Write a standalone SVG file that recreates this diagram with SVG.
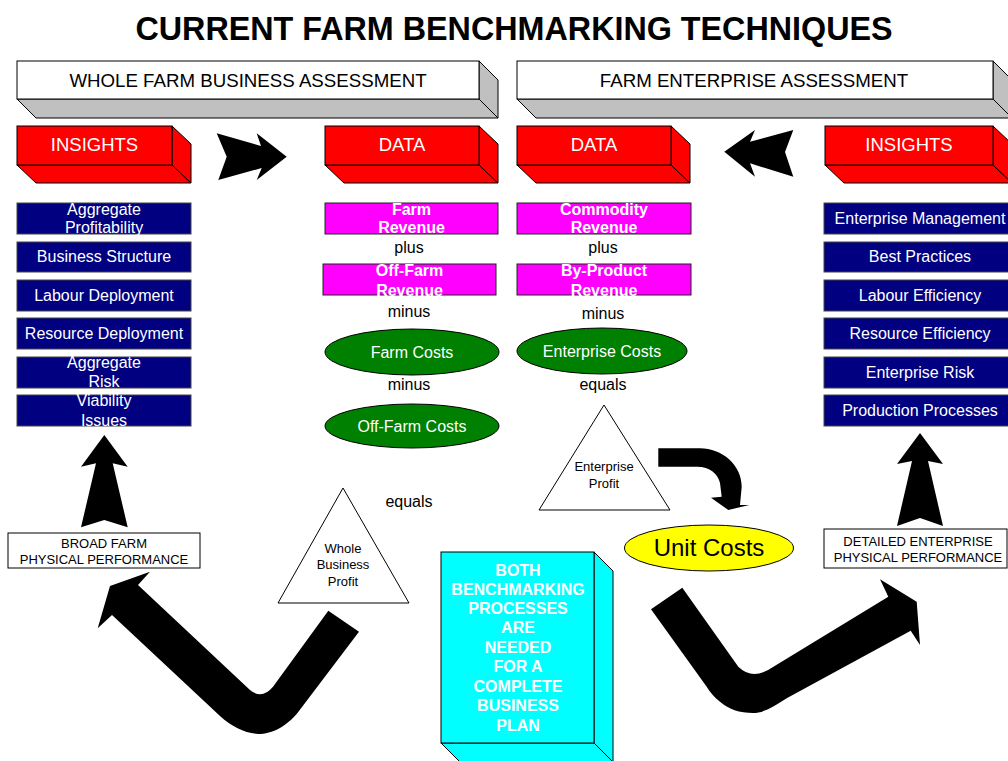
<svg xmlns="http://www.w3.org/2000/svg" width="1008" height="761" viewBox="0 0 1008 761">
<style>
text{font-family:"Liberation Sans",Arial,Helvetica,sans-serif;text-anchor:middle}
.title{font-size:32.3px;font-weight:bold;fill:#000}
.hdr{font-size:18.7px;fill:#000}
.red{font-size:18.5px;fill:#fff}
.nav{font-size:16px;fill:#fff}
.mag{font-size:16px;font-weight:bold;fill:#fff}
.op{font-size:16px;fill:#000}
.sm{font-size:13px;fill:#000}
.cy{font-size:16px;font-weight:bold;fill:#fff}
.edge{stroke:#000;stroke-width:1}
.navbox{fill:#000080;stroke:#444;stroke-width:1}
.magbox{fill:#FF00FF;stroke:#222;stroke-width:1}
.ell{fill:#008000;stroke:#000;stroke-width:1}
.tri{fill:#fff;stroke:#000;stroke-width:1}
.arrow{fill:#000;stroke:none}
</style>

<text class="title" x="514" y="39.5">CURRENT FARM BENCHMARKING TECHNIQUES</text>

<g id="hdr-whole">
<polygon class="edge" fill="#C0C0C0" points="17,99 479,99 498,118 36,118"/>
<polygon class="edge" fill="#C0C0C0" points="479,61 498,80 498,118 479,99"/>
<rect class="edge" fill="#fff" x="17" y="61" width="462" height="38"/>
<text class="hdr" x="248" y="87">WHOLE FARM BUSINESS ASSESSMENT</text>
</g>
<g id="hdr-enterprise">
<polygon class="edge" fill="#C0C0C0" points="517,99 993,99 1012,118 536,118"/>
<polygon class="edge" fill="#C0C0C0" points="993,61 1012,80 1012,118 993,99"/>
<rect class="edge" fill="#fff" x="517" y="61" width="476" height="38"/>
<text class="hdr" x="754" y="87">FARM ENTERPRISE ASSESSMENT</text>
</g>

<g id="insights-left">
<polygon class="edge" fill="#FF0000" points="17,165 172,165 191,183 36,183"/>
<polygon class="edge" fill="#FF0000" points="172,126 191,144 191,183 172,165"/>
<rect class="edge" fill="#FF0000" x="17" y="126" width="155" height="39"/>
<text class="red" x="94.5" y="151">INSIGHTS</text>
</g>
<g id="data-left">
<polygon class="edge" fill="#FF0000" points="325,165 479,165 498,183 344,183"/>
<polygon class="edge" fill="#FF0000" points="479,126 498,144 498,183 479,165"/>
<rect class="edge" fill="#FF0000" x="325" y="126" width="154" height="39"/>
<text class="red" x="402" y="151">DATA</text>
</g>
<g id="data-right">
<polygon class="edge" fill="#FF0000" points="517,165 671,165 690,183 536,183"/>
<polygon class="edge" fill="#FF0000" points="671,126 690,144 690,183 671,165"/>
<rect class="edge" fill="#FF0000" x="517" y="126" width="154" height="39"/>
<text class="red" x="594" y="151">DATA</text>
</g>
<g id="insights-right">
<polygon class="edge" fill="#FF0000" points="825,165 993,165 1012,183 844,183"/>
<polygon class="edge" fill="#FF0000" points="993,126 1012,144 1012,183 993,165"/>
<rect class="edge" fill="#FF0000" x="825" y="126" width="168" height="39"/>
<text class="red" x="909" y="151">INSIGHTS</text>
</g>

<g id="left-insights-list">
<rect class="navbox" x="17" y="203" width="174" height="31"/>
<text class="nav" x="104" y="214.5">Aggregate</text>
<text class="nav" x="104" y="233">Profitability</text>
<rect class="navbox" x="17" y="242" width="174" height="30"/>
<text class="nav" x="104" y="262">Business Structure</text>
<rect class="navbox" x="17" y="280" width="174" height="31"/>
<text class="nav" x="104" y="301">Labour Deployment</text>
<rect class="navbox" x="17" y="318" width="174" height="31"/>
<text class="nav" x="104" y="339">Resource Deployment</text>
<rect class="navbox" x="17" y="357" width="174" height="31"/>
<text class="nav" x="104" y="367.5">Aggregate</text>
<text class="nav" x="104" y="386.5">Risk</text>
<rect class="navbox" x="17" y="395" width="174" height="31"/>
<text class="nav" x="104" y="406">Viability</text>
<text class="nav" x="104" y="425.5">Issues</text>
</g>

<g id="right-insights-list">
<rect class="navbox" x="824" y="203" width="192" height="31"/>
<text class="nav" x="920" y="224">Enterprise Management</text>
<rect class="navbox" x="824" y="242" width="192" height="30"/>
<text class="nav" x="920" y="262">Best Practices</text>
<rect class="navbox" x="824" y="280" width="192" height="31"/>
<text class="nav" x="920" y="301">Labour Efficiency</text>
<rect class="navbox" x="824" y="318" width="192" height="31"/>
<text class="nav" x="920" y="339">Resource Efficiency</text>
<rect class="navbox" x="824" y="357" width="192" height="31"/>
<text class="nav" x="920" y="377.5">Enterprise Risk</text>
<rect class="navbox" x="824" y="395" width="192" height="31"/>
<text class="nav" x="920" y="416">Production Processes</text>
</g>

<g id="farm-revenue">
<rect class="magbox" x="325" y="203" width="173" height="31"/>
<text class="mag" x="411.5" y="214.5">Farm</text>
<text class="mag" x="411.5" y="233">Revenue</text>
</g>
<text class="op" x="409" y="252.5">plus</text>
<g id="offfarm-revenue">
<rect class="magbox" x="323" y="264" width="173" height="31"/>
<text class="mag" x="409.5" y="275.5">Off-Farm</text>
<text class="mag" x="409.5" y="295.5">Revenue</text>
</g>
<text class="op" x="409" y="316.5">minus</text>
<g id="farm-costs">
<ellipse class="ell" cx="412" cy="352" rx="87" ry="23"/>
<text class="nav" x="412" y="357.5">Farm Costs</text>
</g>
<text class="op" x="409" y="389.5">minus</text>
<g id="offfarm-costs">
<ellipse class="ell" cx="412" cy="426" rx="87" ry="22"/>
<text class="nav" x="412" y="431.5">Off-Farm Costs</text>
</g>
<text class="op" x="409" y="506.5">equals</text>
<g id="whole-profit">
<polygon class="tri" points="343,488 409,603 278,603"/>
<text class="sm" x="343" y="552.5">Whole</text>
<text class="sm" x="343" y="568.5">Business</text>
<text class="sm" x="343" y="585.5">Profit</text>
</g>

<g id="commodity-revenue">
<rect class="magbox" x="517" y="203" width="174" height="31"/>
<text class="mag" x="604" y="214.5">Commodity</text>
<text class="mag" x="604" y="233">Revenue</text>
</g>
<text class="op" x="603" y="252.5">plus</text>
<g id="byproduct-revenue">
<rect class="magbox" x="517" y="264" width="174" height="31"/>
<text class="mag" x="604" y="275.5">By-Product</text>
<text class="mag" x="604" y="295.5">Revenue</text>
</g>
<text class="op" x="603" y="318.5">minus</text>
<g id="enterprise-costs">
<ellipse class="ell" cx="602" cy="351" rx="85" ry="23"/>
<text class="nav" x="602" y="356.5">Enterprise Costs</text>
</g>
<text class="op" x="603" y="389.5">equals</text>
<g id="enterprise-profit">
<polygon class="tri" points="604,405 670,510 539,510"/>
<text class="sm" x="604" y="471">Enterprise</text>
<text class="sm" x="604" y="488">Profit</text>
</g>

<g id="unit-costs">
<ellipse fill="#FFFF00" stroke="#000" stroke-width="1" cx="709" cy="548" rx="84.5" ry="23"/>
<text x="709" y="556" style="font-size:24px;fill:#000">Unit Costs</text>
</g>

<g id="broad-farm">
<rect fill="#fff" stroke="#000" stroke-width="1" x="8" y="533" width="192" height="35"/>
<text class="sm" x="104" y="547.5">BROAD FARM</text>
<text class="sm" x="104" y="563.5">PHYSICAL PERFORMANCE</text>
</g>
<g id="detailed-enterprise">
<rect fill="#fff" stroke="#000" stroke-width="1" x="824" y="529" width="183" height="39"/>
<text class="sm" x="918" y="545.5">DETAILED ENTERPRISE</text>
<text class="sm" x="918" y="561.5">PHYSICAL PERFORMANCE</text>
</g>

<g id="both-processes">
<polygon class="edge" fill="#00FFFF" points="441,743 594,743 613,762 460,762"/>
<polygon class="edge" fill="#00FFFF" points="594,552 613,571 613,762 594,743"/>
<rect class="edge" fill="#00FFFF" x="441" y="552" width="153" height="191"/>
<text class="cy" x="518" y="575.5">BOTH</text>
<text class="cy" x="518" y="594.5">BENCHMARKING</text>
<text class="cy" x="518" y="613.5">PROCESSES</text>
<text class="cy" x="518" y="632.5">ARE</text>
<text class="cy" x="518" y="652.5">NEEDED</text>
<text class="cy" x="518" y="671.5">FOR A</text>
<text class="cy" x="518" y="691.5">COMPLETE</text>
<text class="cy" x="518" y="710.5">BUSINESS</text>
<text class="cy" x="518" y="730.5">PLAN</text>
</g>

<g id="connectors">
<polygon class="arrow" points="216.7,133.3 261,146 256.7,133.3 286.7,156.7 256.7,180 261.7,168 218.3,180 226.7,156.7"/>
<polygon class="arrow" points="724.3,151.7 755,130 750,141.7 793.3,130 785,152 793.3,176.7 750,163.3 755,176.7"/>
<polygon class="arrow" points="104.3,435 127.7,466.7 112.7,463.3 127.7,527.3 104.3,520 81,527.3 96,463.3 81,466.7"/>
<polygon class="arrow" points="920,433 943,464 928,461 943,526 920,518 897,526 912,461 897,464"/>
<path class="arrow" d="M328.3,610.7 L359,631.7 L302,707 C288,727 272,734 258,734 C245,733 232,727 220,716 L112,615 L97.7,628.3 L110,586 L150,571.7 L138,585 L250,690 Q262,700 273,686.7 Z"/>
<path class="arrow" d="M651,609.3 L682.3,587.7 L738.3,666.7 Q753,681 773,667 L888.3,596.7 L880,579.3 L916.7,601.7 L920,645 L910.7,630.7 L786.7,698.3 C775,706 764,713 753,713 C740,713 728,709 720,701.7 C714,697 710,692 706.7,686.7 Z"/>
<path class="arrow" d="M658.3,448.3 L700,448.3 C722,448.3 741.7,465 741.7,486.7 L740,505 L749.3,505 L728.3,510 L711,497.7 L721.7,496.7 L720,483 C718,474 710,466.7 697,466.7 L658.3,466.7 Z"/>
</g>
</svg>
